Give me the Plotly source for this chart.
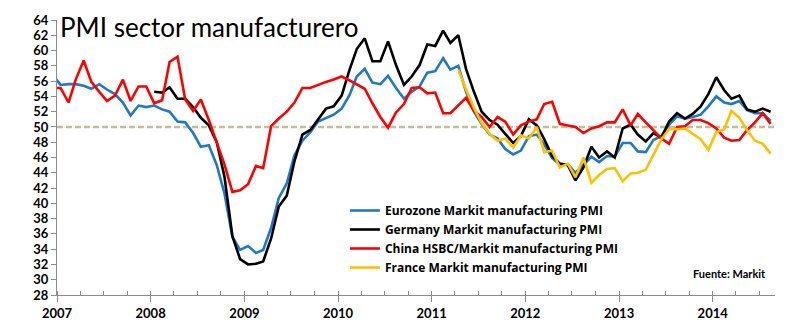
import pandas as pd
import plotly.graph_objects as go

# Monthly observations, Dec 2006 .. Aug 2014 (points sit mid-month)
months = pd.date_range("2006-12-01", "2014-08-01", freq="MS") + pd.Timedelta(days=14)

eurozone = [56.8,
    55.5, 55.6, 55.6, 55.4, 55.0, 55.6, 54.9, 54.3, 53.2, 51.5, 52.8, 52.6,
    52.8, 52.3, 52.0, 50.7, 50.6, 49.2, 47.4, 47.6, 45.0, 41.3, 35.6, 33.9,
    34.4, 33.5, 33.9, 36.8, 40.7, 42.6, 46.3, 48.2, 49.3, 50.7, 51.2, 51.6,
    52.4, 54.2, 56.6, 57.6, 55.8, 55.6, 56.7, 55.1, 53.7, 54.6, 55.3, 57.1,
    57.3, 59.0, 57.5, 58.0, 54.6, 52.0, 50.4, 49.0, 48.5, 47.1, 46.4, 46.9,
    48.8, 49.0, 47.7, 45.9, 45.1, 45.1, 44.0, 45.1, 46.1, 45.4, 46.2, 46.1,
    47.9, 47.9, 46.8, 46.7, 48.3, 48.8, 50.3, 51.4, 51.1, 51.3, 51.6, 52.7,
    54.0, 53.2, 53.0, 53.4, 52.2, 51.8, 51.8, 50.8]

germany = [None,
    None, None, None, None, None, None, None, None, None, None, None, None,
    54.6, 54.5, 55.2, 53.7, 53.7, 52.6, 51.2, 50.2, 48.0, 43.5, 35.7, 32.7,
    32.0, 32.1, 32.4, 35.4, 39.6, 41.0, 45.5, 49.0, 49.6, 51.0, 52.4, 52.7,
    54.1, 57.5, 60.2, 61.6, 58.6, 58.6, 61.2, 58.1, 55.5, 56.6, 58.1, 60.8,
    60.6, 62.6, 61.0, 62.0, 57.6, 54.6, 52.0, 50.9, 50.3, 49.1, 47.9, 48.8,
    51.0, 50.2, 48.4, 46.2, 45.2, 45.0, 43.0, 44.7, 47.4, 46.0, 46.8, 46.0,
    49.8, 50.3, 49.0, 48.1, 49.2, 48.6, 50.7, 51.8, 51.1, 51.7, 52.7, 54.3,
    56.5, 54.8, 53.7, 54.1, 52.3, 52.0, 52.4, 52.0]

china = [55.1,
    55.1, 53.2, 56.2, 58.7, 55.9, 54.6, 53.4, 54.1, 56.2, 53.4, 55.3, 55.3,
    53.1, 53.5, 58.5, 59.2, 53.6, 52.1, 53.6, 50.9, 47.9, 45.1, 41.5, 41.7,
    42.5, 44.9, 44.6, 50.1, 51.1, 52.0, 53.2, 55.1, 55.1, 55.5, 55.9, 56.2,
    56.6, 56.1, 55.6, 55.0, 53.1, 51.3, 49.9, 51.9, 53.0, 55.1, 55.2, 54.4,
    54.5, 51.8, 51.8, 52.8, 53.8, 52.1, 51.3, 50.0, 51.3, 50.7, 49.0, 50.2,
    50.7, 51.0, 53.0, 53.3, 50.4, 50.2, 50.0, 49.2, 49.8, 50.1, 50.6, 50.6,
    52.3, 50.2, 51.7, 50.6, 49.5, 48.5, 47.8, 50.0, 50.1, 50.9, 50.9, 50.5,
    49.8, 48.6, 48.2, 48.3, 49.6, 50.6, 51.8, 50.4]

france = [None,
    None, None, None, None, None, None, None, None, None, None, None, None,
    None, None, None, None, None, None, None, None, None, None, None, None,
    None, None, None, None, None, None, None, None, None, None, None, None,
    None, None, None, None, None, None, None, None, None, None, None, None,
    None, None, None, 57.5, 54.9, 52.5, 50.5, 49.1, 48.2, 48.5, 47.3, 48.9,
    48.5, 50.0, 46.7, 46.9, 44.7, 45.2, 43.4, 46.0, 42.7, 43.7, 44.5, 44.6,
    42.9, 43.9, 44.0, 44.4, 46.4, 48.4, 49.7, 49.7, 49.8, 49.1, 48.4, 47.0,
    49.3, 49.7, 52.1, 51.2, 49.6, 48.2, 47.8, 46.5]

series_names = ["Eurozone Markit manufacturing PMI",
                "Germany Markit manufacturing PMI",
                "China HSBC/Markit manufacturing PMI",
                "France Markit manufacturing PMI"]
series_colors = ["#1F78C8", "#000000", "#FF0000", "#FFC000"]
threshold = 50
title_text = "PMI sector manufacturero"
source_text = "Fuente: Markit"

fig = go.Figure()
for vals, name, col in zip([eurozone, germany, china, france], series_names, series_colors):
    fig.add_trace(go.Scatter(x=months, y=vals, mode="lines", name=name,
                             line=dict(color=col, width=2.6), connectgaps=False))

fig.add_hline(y=threshold, line=dict(color="#C4BD97", width=2.5, dash="6px,3px"), layer="below")

axis_col = "#8C8C8C"
fig.update_layout(
    width=800, height=333,
    margin=dict(l=57, r=25, t=17, b=34),
    paper_bgcolor="white", plot_bgcolor="white",
    font=dict(family="Lato", color="black"),
    showlegend=True,
    legend=dict(x=0.401, y=0.36, xanchor="left", yanchor="top",
                bgcolor="rgba(0,0,0,0)", tracegroupgap=0,
                font=dict(family="Open Sans", size=12, color="black", weight="bold")),
    xaxis=dict(type="date", range=["2007-01-01", "2014-09-01"],
               tick0="2007-01-01", dtick="M12", tickformat="%Y",
               ticks="outside", ticklen=6, tickcolor=axis_col, tickwidth=1,
               showline=True, linecolor=axis_col, linewidth=1.3,
               showgrid=False, zeroline=False,
               tickfont=dict(family="Lato", size=13, color="black", weight="bold"),
               minor=dict(dtick="M3", ticks="inside", ticklen=4, tickcolor=axis_col, showgrid=False)),
    yaxis=dict(range=[28, 64], dtick=2, tick0=28,
               ticks="outside", ticklen=5, tickcolor=axis_col,
               showline=True, linecolor=axis_col, linewidth=1.3,
               showgrid=False, zeroline=False,
               tickfont=dict(family="Lato", size=13, color="black", weight="bold")),
)

fig.add_annotation(text=title_text, xref="paper", yref="paper",
                   x=0.002, y=0.975, xanchor="left", yanchor="middle",
                   showarrow=False, font=dict(family="Lato", size=26, color="black"))
fig.add_annotation(text=source_text, xref="paper", yref="paper",
                   x=0.99, y=0.08, xanchor="right", yanchor="middle",
                   showarrow=False, font=dict(family="Lato", size=11, color="black", weight="bold"))

fig.write_html("out.html")
